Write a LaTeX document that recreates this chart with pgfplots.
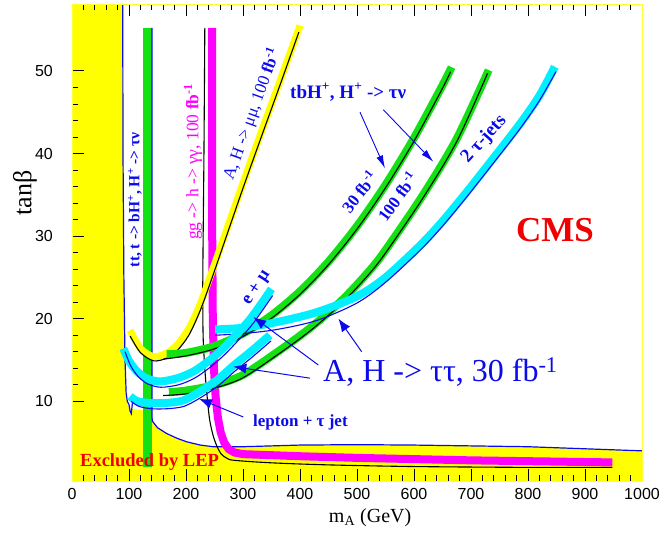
\documentclass[border=0pt]{standalone}
\usepackage{fontspec}
\setmainfont{Liberation Serif}
\setsansfont{Liberation Sans}
\usepackage{pgfplots}
\pgfplotsset{compat=1.18}
\usetikzlibrary{arrows.meta}
\definecolor{lepyellow}{RGB}{255,255,0}
\definecolor{bandgreen}{RGB}{20,225,20}
\definecolor{bandcyan}{RGB}{0,240,255}
\definecolor{bandmag}{RGB}{255,0,255}
\definecolor{lblue}{RGB}{10,10,235}
\definecolor{cmsred}{RGB}{240,0,0}
\newcommand\fs[1]{\fontsize{#1bp}{#1bp}\selectfont}
\begin{document}
\begin{tikzpicture}
\begin{axis}[
 at={(0,0)}, anchor=south west,
 scale only axis, width=570bp, height=477bp,
 xmin=0, xmax=1000, ymin=0.35, ymax=58.1,
 xtick={0,100,...,1000}, ytick={10,20,30,40,50},
 minor x tick num=4, minor y tick num=4,
 xtick pos=both, ytick pos=left,
 tick align=inside,
 major tick length=12.5bp, minor tick length=6.5bp,
 tick style={black, line width=0.8bp},
 axis line style={lepyellow!80!white, line width=0.8bp},
 axis on top,
 clip=false,
 /pgf/number format/assume math mode=true,
 /pgf/number format/1000 sep={},
 ticklabel style={font=\sffamily\fs{16}},
 yticklabel style={anchor=east, inner sep=0pt, xshift=-19bp},
 xticklabel style={anchor=north, inner sep=0pt, yshift=-7bp},
]
% LEP excluded region
\addplot[fill=lepyellow, draw=none] coordinates {(0,0.35)(0,58.1)(88.5,58.1)(89.5,40)(91,25)(93,15)(95,11)(97,9.8)(100,9.3)(103,8.7)(106,9.2)(110,9.0)(125,8.9)(140,7.6)(150,6.8)(166,6.1)(185,5.5)(201,5.1)(225,4.7)(248,4.5)(300,4.5)(400,4.7)(500,4.75)(600,4.7)(700,4.6)(800,4.5)(900,4.25)(1000,4.0)(1000,0.35)} --cycle;
\addplot[lblue, line width=1.2bp] coordinates {(89,58.1)(89.5,40)(91,25)(93,15)(95,11)(97,10)(100,9.6)(102,8.8)(104,8.5)(106,9.8)};
% tt, t -> bH+ band
\addplot[bandgreen, line width=9bp] coordinates {(133,2.0)(133,55.2)};
\addplot[lblue, line width=1.2bp, line join=round] coordinates {(140.5,55.2)(140.5,8)(141,7.6)(150,6.8)(166,6.1)(185,5.5)(201,5.1)(225,4.7)(248,4.5)(300,4.5)(400,4.7)(500,4.75)(600,4.7)(700,4.6)(800,4.5)(900,4.25)(1000,4.0)};
% gg -> h -> gamma gamma
\addplot[bandmag, line width=8bp, line join=round] coordinates {(246,55.2)(246,30)(247,20)(249,14)(252,10.5)(256,8)(261,6.2)(267,5)(275,4.2)(285,3.8)(300,3.6)(400,3.35)(500,3.15)(600,3.0)(700,2.85)(800,2.75)(948,2.6)};
\addplot[black, line width=1.1bp, smooth] coordinates {(233,55.2)(231.5,40)(229.5,25)(230,18)(233,14)(236,11.4)(241,8)(247,6)(254,4.6)(262,3.6)(272,3.1)(285,2.85)(350,2.55)(450,2.3)(600,2.1)(800,2.0)(948,2.0)};
% A,H -> mu mu
\addplot[lepyellow, line width=7bp, smooth] coordinates {(102,18.6)(120,16.4)(143,15.4)(165,15.8)(184,16.8)(205,18.8)(225,21.8)(245,25.6)(270,30.5)(300,36.4)(330,42.2)(365,48.8)(400,55.5)};
\addplot[black, line width=1.1bp, smooth] coordinates {(102,17.9)(120,15.9)(143,14.9)(165,15.2)(184,16.1)(205,18.0)(225,21.0)(245,24.8)(270,29.8)(300,35.8)(330,41.6)(365,48.3)(398,54.7)};
% tbH+ 30 fb-1
\addplot[bandgreen, line width=8bp, smooth] coordinates {(166,15.7)(200,15.86)(250,16.68)(300,18.2)(350,20.41)(400,23.31)(450,26.91)(500,31.21)(550,36.2)(600,41.88)(650,48.26)(666,50.45)};
\addplot[black, line width=1.1bp, smooth] coordinates {(160,15.1)(200,15.5)(250,16.35)(300,17.85)(350,20.05)(400,22.95)(450,26.55)(500,30.85)(550,35.85)(600,41.5)(650,47.9)(664,49.9)};
% tbH+ 100 fb-1
\addplot[bandgreen, line width=8bp, smooth] coordinates {(170,11.1)(200,11.3)(250,11.95)(300,13.2)(365,16.2)(420,19.0)(476,22.4)(523,25.9)(552,28.5)(616,35.0)(675,41.8)(731,50.1)};
\addplot[black, line width=1.1bp, smooth] coordinates {(160,10.7)(200,10.9)(250,11.6)(300,12.85)(365,15.85)(420,18.65)(476,22.05)(523,25.55)(552,28.15)(616,34.65)(675,41.45)(729,49.7)};
% 2 tau-jets
\addplot[bandcyan, line width=8bp, smooth] coordinates {(251,18.7)(300,18.9)(360,19.6)(430,20.8)(500,22.7)(550,25.0)(611,28.9)(650,31.8)(692,35.3)(740,39.5)(786,43.6)(820,47.0)(847,50.5)};
\addplot[lblue, line width=1.1bp, smooth] coordinates {(251,18.0)(300,18.2)(360,18.7)(430,19.8)(500,21.9)(550,24.4)(611,28.3)(650,31.2)(692,34.7)(740,38.9)(786,43.0)(820,46.4)(849,49.9)};
% e + mu
\addplot[bandcyan, line width=8bp, smooth] coordinates {(90,16.4)(100,14.9)(113,13.7)(130,12.8)(154,12.4)(185,12.8)(213,13.6)(240,14.9)(265,16.4)(290,18.2)(312,19.9)(332,21.8)(350,23.6)};
\addplot[lblue, line width=1.1bp, smooth] coordinates {(93,16.0)(103,14.3)(116,13.0)(133,12.1)(156,11.7)(187,12.0)(215,12.8)(242,14.1)(267,15.6)(292,17.4)(314,19.1)(334,21.0)(352,22.8)};
% lepton + tau jet
\addplot[bandcyan, line width=8bp, smooth] coordinates {(102,10.6)(115,10.0)(137,9.8)(165,9.8)(195,10.1)(225,11.2)(255,12.6)(283,14.3)(315,16.1)(347,18.0)};
\addplot[lblue, line width=1.1bp, smooth] coordinates {(104,10.0)(117,9.4)(139,9.1)(167,9.1)(197,9.4)(227,10.5)(257,11.9)(285,13.6)(317,15.4)(349,17.3)};
% arrows
\draw[lblue, line width=0.9bp, -{Latex[length=13bp,width=7bp]}] (axis cs:505.3,45.0) -- (axis cs:549.1,38.2);
\draw[lblue, line width=0.9bp, -{Latex[length=13bp,width=7bp]}] (axis cs:546.1,45.3) -- (axis cs:633.9,39.0);
\draw[lblue, line width=1bp, -{Latex[length=13bp,width=10bp]}] (axis cs:432.1,14.4) -- (axis cs:318.1,20.2);
\draw[lblue, line width=1bp, -{Latex[length=13bp,width=10bp]}] (axis cs:417.5,12.8) -- (axis cs:283,14.2);
\draw[lblue, line width=1bp, -{Latex[length=13bp,width=10bp]}] (axis cs:508.2,16.0) -- (axis cs:467.5,20.0);
\draw[lblue, line width=1bp, -{Latex[length=13bp,width=10bp]}] (axis cs:300.5,8.1) -- (axis cs:222.8,10.3);
% texts
\node[lblue, font=\bfseries\fs{19}, anchor=base west, inner sep=0pt] at (axis cs:382.5,46.7) {tbH\textsuperscript{+}, H\textsuperscript{+} -> τν};
\node[lblue, font=\bfseries\fs{17}, rotate=52] at (axis cs:503.5,35.4) {30 fb\textsuperscript{-1}};
\node[lblue, font=\bfseries\fs{17}, rotate=54] at (axis cs:570.2,34.8) {100 fb\textsuperscript{-1}};
\node[lblue, font=\bfseries\fs{19}, rotate=48] at (axis cs:722.8,41.7) {2 τ-jets};
\node[cmsred, font=\bfseries\fs{35}] at (axis cs:847.4,30.7) {CMS};
\node[lblue, font=\fs{32}, anchor=base west, inner sep=0pt] at (axis cs:440.4,12.4) {A, H -> ττ, 30 fb\textsuperscript{-1}};
\node[lblue, font=\bfseries\fs{18}, rotate=57] at (axis cs:324.6,23.7) {e + μ};
\node[lblue, font=\bfseries\fs{17}, anchor=base west, inner sep=0pt] at (axis cs:317.5,6.9) {lepton + τ jet};
\node[lblue, font=\fs{17}, rotate=70] at (axis cs:315.3,44.8) {A, H -> μμ, 100 \textbf{fb\textsuperscript{-1}}};
\node[bandmag, font=\fs{17.5}, rotate=90] at (axis cs:212.3,39) {gg -> h -> γγ, 100 \textbf{fb\textsuperscript{-1}}};
\node[lblue, font=\bfseries\fs{15.5}, rotate=90] at (axis cs:110.5,34.4) {tt, t -> bH\textsuperscript{+}, H\textsuperscript{+} -> τν};
\node[cmsred, font=\bfseries\fs{18.5}, anchor=base west, inner sep=0pt] at (axis cs:14,2.1) {Excluded by LEP};
\node[font=\fs{26}, rotate=90] at (axis cs:-82.5,35.2) {tanβ};
\node[font=\fs{20}, anchor=base] at (axis cs:523,-4.7) {m\textsubscript{A} (GeV)};
\end{axis}
\pgfresetboundingbox
\path[use as bounding box] (-72bp,-55bp) rectangle (595bp,481bp);
\end{tikzpicture}
\end{document}
